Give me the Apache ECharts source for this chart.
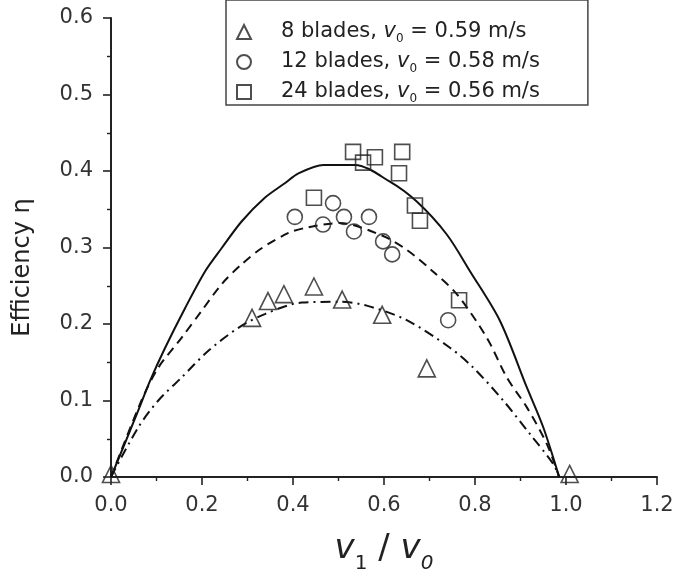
<!DOCTYPE html>
<html>
<head>
<meta charset="utf-8">
<script src="https://cdn.jsdelivr.net/npm/echarts@6/dist/echarts.min.js"></script>
<style>
  html, body { margin: 0; padding: 0; background: #fff; }
  #main { width: 680px; height: 579px; }
</style>
</head>
<body>
<div id="main"></div>
<script>
// measured points, [v1/v0, efficiency]
var blades8 = [[0.0, 0.004], [0.31, 0.208], [0.345, 0.230], [0.38, 0.239], [0.446, 0.249],
               [0.508, 0.232], [0.596, 0.212], [0.694, 0.142], [1.008, 0.004]];
var blades12 = [[0.404, 0.340], [0.488, 0.358], [0.466, 0.330], [0.512, 0.340], [0.534, 0.321],
                [0.567, 0.340], [0.598, 0.308], [0.618, 0.291], [0.741, 0.205]];
var blades24 = [[0.532, 0.425], [0.554, 0.411], [0.580, 0.418], [0.640, 0.425], [0.633, 0.397],
                [0.446, 0.365], [0.668, 0.355], [0.679, 0.335], [0.765, 0.231]];

// fitted curves
var fit24 = [[0, 0], [0.06, 0.087], [0.086, 0.126], [0.119, 0.169], [0.163, 0.221], [0.207, 0.269],
             [0.243, 0.299], [0.287, 0.334], [0.338, 0.365], [0.382, 0.384], [0.412, 0.397],
             [0.467, 0.408], [0.536, 0.408], [0.613, 0.386], [0.672, 0.360], [0.738, 0.317],
             [0.789, 0.269], [0.855, 0.204], [0.914, 0.117], [0.950, 0.065], [0.985, 0]];
var fit12 = [[0, 0], [0.067, 0.100], [0.104, 0.143], [0.155, 0.182], [0.199, 0.217], [0.243, 0.252],
             [0.287, 0.278], [0.331, 0.299], [0.390, 0.319], [0.430, 0.326], [0.503, 0.332],
             [0.598, 0.315], [0.650, 0.297], [0.705, 0.270], [0.760, 0.239], [0.826, 0.182],
             [0.870, 0.130], [0.914, 0.091], [0.958, 0.043], [0.985, 0]];
var fit8 = [[0, 0], [0.06, 0.065], [0.104, 0.100], [0.155, 0.130], [0.214, 0.165], [0.280, 0.195],
            [0.338, 0.213], [0.419, 0.228], [0.503, 0.229], [0.562, 0.224], [0.650, 0.205],
            [0.745, 0.169], [0.796, 0.143], [0.862, 0.100], [0.921, 0.056], [0.972, 0.017], [0.985, 0]];

var seriesNames = ['8 blades', '12 blades', '24 blades'];
var v0Values = [0.59, 0.58, 0.56];
var xTicks = [0, 1.2, 0.2];   // min, max, interval
var yTicks = [0, 0.6, 0.1];

var ink = '#222';

function drawChart() {
    var myChart = echarts.init(document.getElementById('main'));

    function marker(name, data, symbol, size) {
        return {
            name: name,
            type: 'scatter',
            data: data,
            symbol: symbol,
            symbolSize: size,
            itemStyle: { color: 'rgba(255,255,255,0)', borderColor: ink, borderWidth: 1.6 },
            z: 3
        };
    }
    function curve(data, type) {
        return {
            type: 'line',
            data: data,
            symbol: 'none',
            smooth: 0.3,
            lineStyle: { color: '#111', width: 2, type: type },
            z: 2
        };
    }

    var option = {
        animation: false,
        backgroundColor: '#fff',
        textStyle: { fontFamily: 'DejaVu Sans' },
        grid: { left: 111, right: 23, top: 18, bottom: 99 },
        legend: {
            data: seriesNames,
            orient: 'vertical',
            left: 226,
            top: 0,
            padding: [19, 48, 0, 10],
            itemGap: 4,
            itemWidth: 14,
            itemHeight: 14,
            borderColor: '#444',
            borderWidth: 1.5,
            formatter: function (name) {
                var i = seriesNames.indexOf(name);
                return name + ', {v|v}{s|0} = ' + v0Values[i].toFixed(2) + ' m/s';
            },
            textStyle: {
                color: ink,
                fontSize: 21,
                lineHeight: 26,
                padding: [0, 0, 0, 25],
                rich: {
                    v: { fontSize: 21, fontStyle: 'italic', lineHeight: 26, color: ink },
                    s: { fontSize: 12, lineHeight: 8, verticalAlign: 'bottom', color: ink }
                }
            }
        },
        xAxis: {
            type: 'value',
            min: xTicks[0],
            max: xTicks[1],
            interval: xTicks[2],
            name: '{v|v}{s|1}{n| / }{v|v}{t|0}',
            nameLocation: 'middle',
            nameGap: 47,
            nameTextStyle: {
                color: ink,
                fontSize: 34,
                lineHeight: 50,
                rich: {
                    v: { fontSize: 34, fontStyle: 'italic', lineHeight: 50, color: ink },
                    n: { fontSize: 34, lineHeight: 50, color: ink },
                    s: { fontSize: 20, lineHeight: 16, verticalAlign: 'bottom', color: ink },
                    t: { fontSize: 20, fontStyle: 'italic', lineHeight: 16, verticalAlign: 'bottom', color: ink }
                }
            },
            axisLine: { onZero: false, lineStyle: { color: ink, width: 2 } },
            axisTick: { inside: false, length: 8, lineStyle: { color: ink, width: 1.6 } },
            minorTick: { show: true, splitNumber: 2, length: 4, lineStyle: { color: ink, width: 1.4 } },
            axisLabel: {
                color: '#333', fontSize: 21, margin: 18,
                formatter: function (v) { return v.toFixed(1); }
            },
            splitLine: { show: false }
        },
        yAxis: {
            type: 'value',
            min: yTicks[0],
            max: yTicks[1],
            interval: yTicks[2],
            name: 'Efficiency η',
            nameLocation: 'middle',
            nameGap: 76,
            nameTextStyle: { color: ink, fontSize: 24, padding: [0, 40, 0, 0] },
            axisLine: { onZero: false, lineStyle: { color: ink, width: 2 } },
            axisTick: { inside: false, length: 8, lineStyle: { color: ink, width: 1.6 } },
            minorTick: { show: true, splitNumber: 2, length: 4, lineStyle: { color: ink, width: 1.4 } },
            axisLabel: {
                color: '#333', fontSize: 21, margin: 18,
                formatter: function (v) { return v.toFixed(1); }
            },
            splitLine: { show: false }
        },
        series: [
            curve(fit24, 'solid'),
            curve(fit12, [9, 6]),
            curve(fit8, [10, 5, 2, 5]),
            marker(seriesNames[0], blades8, 'triangle', 17),
            marker(seriesNames[1], blades12, 'circle', 15),
            marker(seriesNames[2], blades24, 'rect', 15)
        ]
    };

    myChart.setOption(option);
}

drawChart();
</script>
</body>
</html>
